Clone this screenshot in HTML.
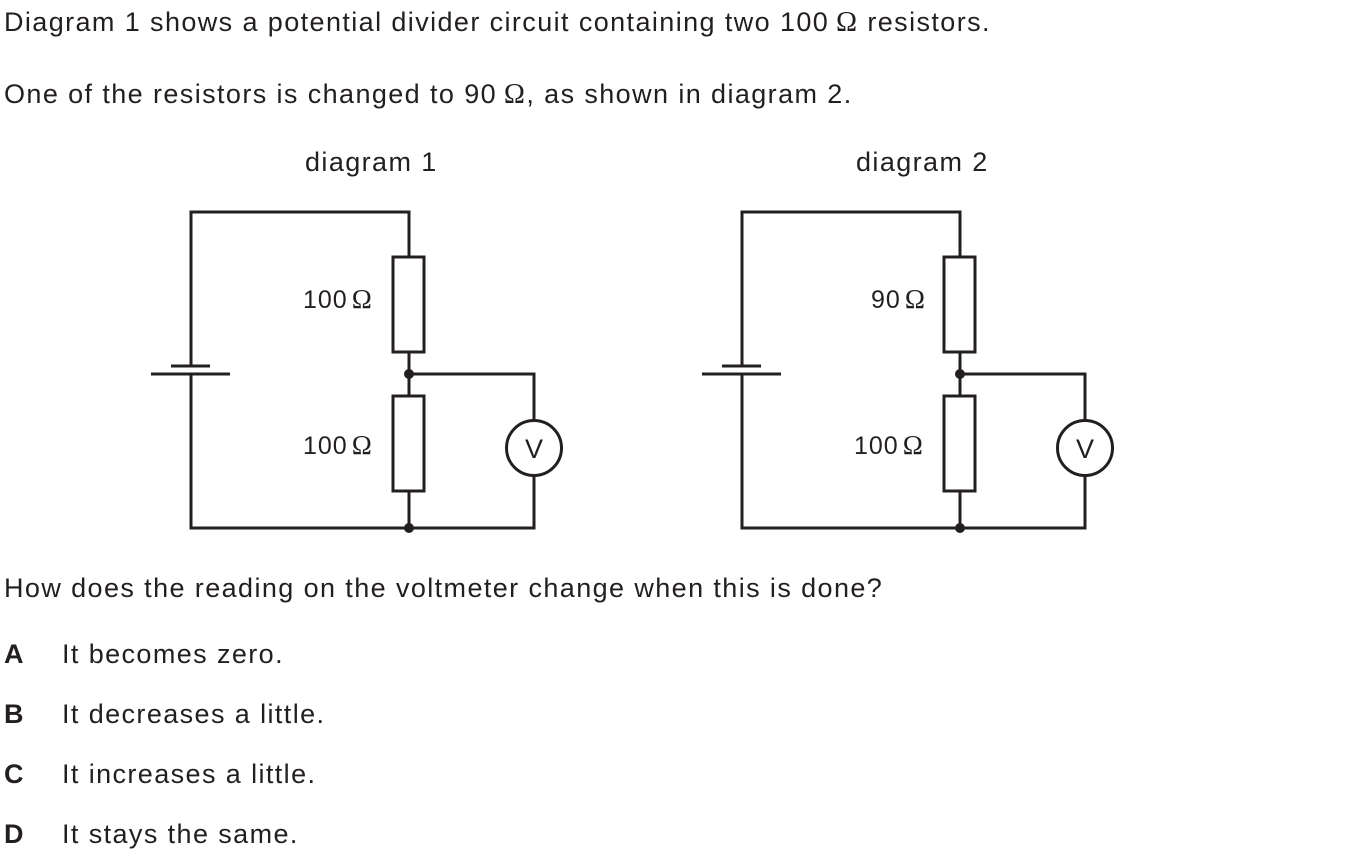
<!DOCTYPE html>
<html><head><style>
body{margin:0;width:1355px;height:861px;background:#fff;font-family:"Liberation Sans",Arial,sans-serif;color:#231f20;position:relative;overflow:hidden}
.t{position:absolute;font-size:27px;letter-spacing:1.4px;white-space:nowrap;line-height:1}
b{font-weight:bold}
.o{font-family:"Liberation Serif",serif;font-size:1.05em}
</style></head><body>
<div class="t" style="left:4px;top:9px">Diagram 1 shows a potential divider circuit containing two 100&#8201;<span class="o">Ω</span> resistors.</div>
<div class="t" style="left:4px;top:81px">One of the resistors is changed to 90&#8201;<span class="o">Ω</span>, as shown in diagram 2.</div>
<div class="t" style="left:305px;top:149px">diagram 1</div>
<div class="t" style="left:856px;top:149px">diagram 2</div>
<svg width="1355" height="861" style="position:absolute;left:0;top:0" stroke="#231f20" stroke-width="3" fill="none">
<g id="c">
<polyline points="191,366 191,212 409,212 409,257"/>
<rect x="393" y="257" width="31" height="95"/>
<line x1="409" y1="352" x2="409" y2="396"/>
<rect x="393" y="396" width="31" height="95"/>
<line x1="409" y1="491" x2="409" y2="528"/>
<polyline points="191,374 191,528 534,528 534,476"/>
<polyline points="409,374 534,374 534,420"/>
<circle cx="534" cy="448" r="27.5"/>
<line x1="151" y1="374" x2="230" y2="374"/>
<line x1="171" y1="366" x2="210" y2="366"/>
<circle cx="409" cy="374" r="5" fill="#231f20" stroke="none"/>
<circle cx="409" cy="528" r="5" fill="#231f20" stroke="none"/>
</g>
<use href="#c" x="551"/>
<g stroke="none" fill="#231f20" font-family="Liberation Sans,Arial,sans-serif" font-size="25" letter-spacing="1">
<text x="303" y="308">100<tspan font-family="Liberation Serif,serif" font-size="27" dx="4">Ω</tspan></text>
<text x="303" y="454">100<tspan font-family="Liberation Serif,serif" font-size="27" dx="4">Ω</tspan></text>
<text x="871" y="308">90<tspan font-family="Liberation Serif,serif" font-size="27" dx="4">Ω</tspan></text>
<text x="854" y="454">100<tspan font-family="Liberation Serif,serif" font-size="27" dx="4">Ω</tspan></text>
<text x="534" y="458" text-anchor="middle" font-size="27" letter-spacing="0">V</text>
<text x="1085" y="458" text-anchor="middle" font-size="27" letter-spacing="0">V</text>
</g>
</svg>
<div class="t" style="left:4px;top:575px">How does the reading on the voltmeter change when this is done?</div>
<div class="t" style="left:4px;top:641px"><b>A</b></div><div class="t" style="left:62px;top:641px">It becomes zero.</div>
<div class="t" style="left:4px;top:701px"><b>B</b></div><div class="t" style="left:62px;top:701px">It decreases a little.</div>
<div class="t" style="left:4px;top:761px"><b>C</b></div><div class="t" style="left:62px;top:761px">It increases a little.</div>
<div class="t" style="left:4px;top:821px"><b>D</b></div><div class="t" style="left:62px;top:821px">It stays the same.</div>
</body></html>
